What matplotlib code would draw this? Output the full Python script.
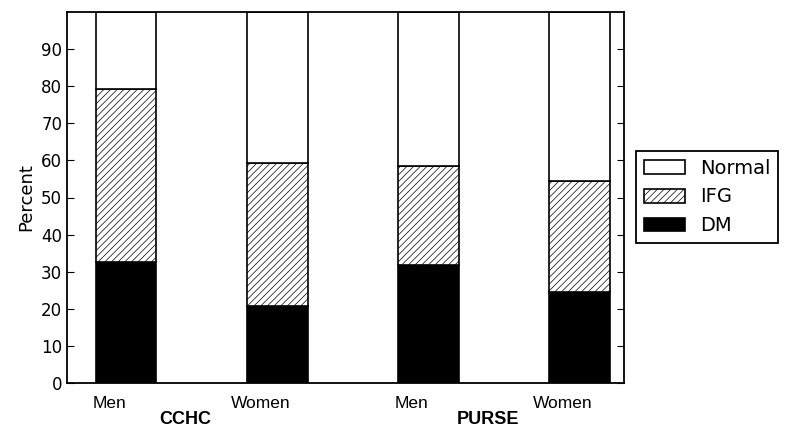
import matplotlib
matplotlib.use("Agg")
import matplotlib.pyplot as plt
import numpy as np

plt.rcParams["patch.force_edgecolor"] = True
plt.rcParams["patch.edgecolor"] = "black"
plt.rcParams["hatch.color"] = "0.5"
plt.rcParams["hatch.linewidth"] = 0.5

# data
groups = ["CCHC", "PURSE"]
sexes = ["Men", "Women", "Men", "Women"]
dm = [32.7, 20.8, 31.8, 24.5]
ifg = [46.5, 38.6, 26.6, 29.9]
normal = [100 - d - i for d, i in zip(dm, ifg)]

x = np.arange(len(sexes))
w = 0.4
dm = np.array(dm)
ifg = np.array(ifg)
normal = np.array(normal)

fig = plt.figure(figsize=(7.93, 4.43), dpi=100)
ax = fig.add_axes([67 / 793, 60 / 443, 557 / 793, 371 / 443])

ax.bar(x, dm, w, color="black", linewidth=1.2, label="DM")
ax.bar(x, ifg, w, bottom=dm, color="white", hatch="/////", linewidth=1.2, label="IFG")
ax.bar(x, normal, w, bottom=dm + ifg, color="white", linewidth=1.2, label="Normal")

ax.set_xlim(-0.392, 3.293)
ax.set_ylim(0, 100)
ax.set_yticks(np.arange(0, 100, 10))
ax.tick_params(axis="y", direction="in", right=True, length=5, labelsize=12)
ax.set_xticks(x - 0.11)
ax.set_xticklabels(sexes, fontsize=12.5, family="Liberation Sans")
ax.tick_params(axis="x", length=0, pad=9)
ax.set_ylabel("Percent", fontsize=13)
for s in ax.spines.values():
    s.set_linewidth(1.3)

for k, g in enumerate(groups):
    ax.text((x[2 * k] + x[2 * k + 1]) / 2 - 0.11, -0.098, g, transform=ax.get_xaxis_transform(),
            ha="center", va="center", fontsize=13, fontweight="bold", family="Liberation Sans")

h, l = ax.get_legend_handles_labels()
leg = fig.legend(h[::-1], l[::-1], loc="upper left", bbox_to_anchor=(636 / 793, 1 - 151 / 443),
                 borderaxespad=0, fontsize=14, fancybox=False, edgecolor="black", framealpha=1,
                 handlelength=2.1, handleheight=0.7, labelspacing=0.5)
leg.get_frame().set_linewidth(1.3)

fig.savefig("out.png", dpi=100)
